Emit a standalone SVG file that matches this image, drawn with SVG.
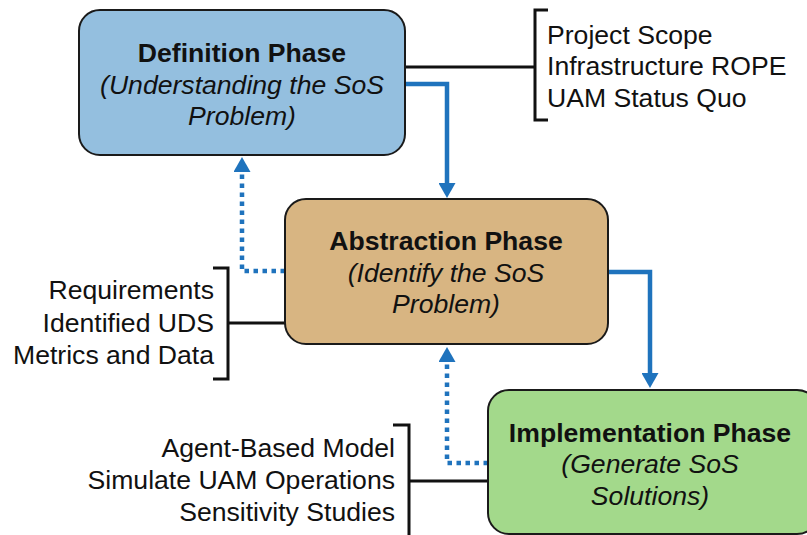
<svg xmlns="http://www.w3.org/2000/svg" width="807" height="535" viewBox="0 0 807 535">
  <style>
    .box { stroke: #1a1a1a; stroke-width: 2; }
    .t { font-family: "Liberation Sans", Arial, sans-serif; font-size: 26.6px; fill: #111; }
    .title { font-weight: bold; text-anchor: middle; }
    .sub { font-style: italic; text-anchor: middle; }
    .flow { fill: none; stroke: #1f73bd; stroke-width: 4.5; }
    .back { fill: none; stroke: #1f73bd; stroke-width: 4.5; stroke-dasharray: 4.5 4.5; }
    .link { fill: none; stroke: #111; stroke-width: 3; }
  </style>
  <defs>
    <marker id="head" viewBox="0 0 15 17" refX="0" refY="8.5" markerWidth="15" markerHeight="17" markerUnits="userSpaceOnUse" orient="auto">
      <path d="M0,0 L15,8.5 L0,17 Z" fill="#1f73bd"/>
    </marker>
  </defs>
  <rect width="807" height="535" fill="#ffffff"/>

  <g id="connectors">
    <!-- forward flow -->
    <path class="flow" d="M405,84 H447 V183" marker-end="url(#head)"/>
    <path class="flow" d="M608,272 H650 V373" marker-end="url(#head)"/>
    <!-- feedback loops -->
    <path class="back" d="M285,271 H242 V172" marker-end="url(#head)"/>
    <path class="back" d="M488,463 H447 V362" marker-end="url(#head)"/>
    <!-- bracket links to activity lists -->
    <path class="link" d="M405,67 H535"/>
    <path class="link" d="M548,10 H535 V120 H548"/>
    <path class="link" d="M285,323 H228"/>
    <path class="link" d="M213,268 H228 V379 H213"/>
    <path class="link" d="M488,481 H409"/>
    <path class="link" d="M393,425 H409 V540"/>
  </g>

  <g id="definition">
    <rect class="box" x="79" y="10" width="326" height="145" rx="21" fill="#94bfdf"/>
    <text class="t title" x="242" y="62">Definition Phase</text>
    <text class="t sub" x="242" y="94">(Understanding the SoS</text>
    <text class="t sub" x="242" y="125">Problem)</text>
  </g>

  <g id="definition-items">
    <text class="t" x="547" y="44">Project Scope</text>
    <text class="t" x="547" y="75">Infrastructure ROPE</text>
    <text class="t" x="547" y="107">UAM Status Quo</text>
  </g>

  <g id="abstraction">
    <rect class="box" x="285" y="199" width="323" height="145" rx="21" fill="#d8b582"/>
    <text class="t title" x="446" y="250">Abstraction Phase</text>
    <text class="t sub" x="446" y="282">(Identify the SoS</text>
    <text class="t sub" x="446" y="313">Problem)</text>
  </g>

  <g id="abstraction-items" text-anchor="end">
    <text class="t" x="214" y="299">Requirements</text>
    <text class="t" x="214" y="332">Identified UDS</text>
    <text class="t" x="214" y="364">Metrics and Data</text>
  </g>

  <g id="implementation">
    <rect class="box" x="488" y="390" width="330" height="144" rx="21" fill="#a3d98b"/>
    <text class="t title" x="650" y="442">Implementation Phase</text>
    <text class="t sub" x="650" y="473">(Generate SoS</text>
    <text class="t sub" x="650" y="505">Solutions)</text>
  </g>

  <g id="implementation-items" text-anchor="end">
    <text class="t" x="395" y="457">Agent-Based Model</text>
    <text class="t" x="395" y="489">Simulate UAM Operations</text>
    <text class="t" x="395" y="521">Sensitivity Studies</text>
  </g>
</svg>
